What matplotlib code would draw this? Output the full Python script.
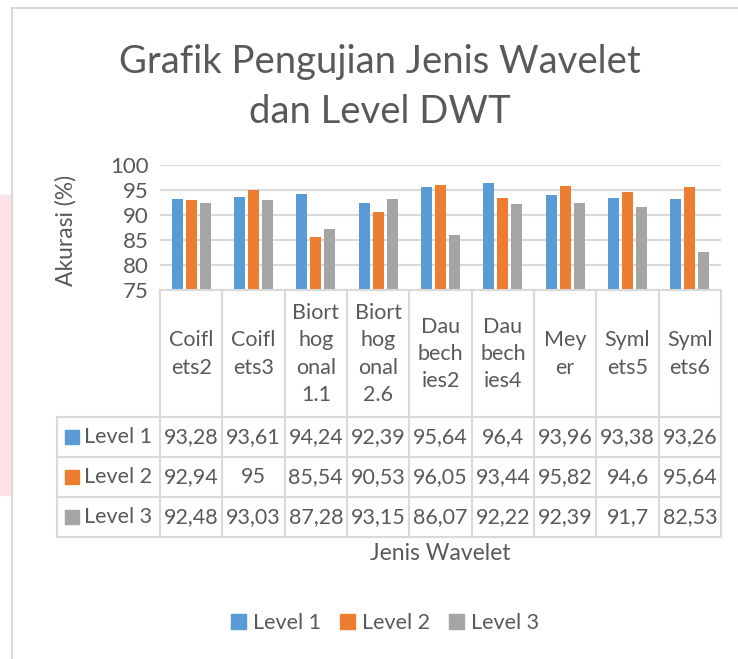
import matplotlib
matplotlib.use("Agg")
import matplotlib.pyplot as plt
from matplotlib.patches import Rectangle, Patch
from matplotlib.lines import Line2D

plt.rcParams['font.family'] = ['Lato', 'DejaVu Sans']

# data
headers = ['Coifl\nets2', 'Coifl\nets3', 'Biort\nhog\nonal\n1.1', 'Biort\nhog\nonal\n2.6',
           'Dau\nbech\nies2', 'Dau\nbech\nies4', 'Mey\ner', 'Syml\nets5', 'Syml\nets6']
series = ['Level 1', 'Level 2', 'Level 3']
level1 = [93.28, 93.61, 94.24, 92.39, 95.64, 96.4, 93.96, 93.38, 93.26]
level2 = [92.94, 95.0, 85.54, 90.53, 96.05, 93.44, 95.82, 94.6, 95.64]
level3 = [92.48, 93.03, 87.28, 93.15, 86.07, 92.22, 92.39, 91.7, 82.53]
yticks = [75, 80, 85, 90, 95, 100]

colors = ['#5B9BD5', '#ED7D31', '#A5A5A5']
txt = '#595959'
grid = '#d9d9d9'

W, H = 738, 659
fig = plt.figure(figsize=(W / 100, H / 100), dpi=100)


def fy(py):
    return 1 - py / H


# background bits: light frame and pink strip on the left
fig.patches.append(Rectangle((0, fy(495)), 11 / W, 300 / H, transform=fig.transFigure,
                             color='#fde3e7', zorder=0))
fig.add_artist(Line2D([12 / W, 1], [fy(8), fy(8)], color=grid, lw=1.5))
fig.add_artist(Line2D([12 / W, 12 / W], [0, fy(8)], color=grid, lw=1.5))

# bar chart
ax = fig.add_axes([160 / W, fy(290), 561 / W, 125 / H])
x = range(len(headers))
data = [level1, level2, level3]
for j, vals in enumerate(data):
    ax.bar([i + 0.5 + (j - 1) * 0.225 for i in x], vals, width=0.177,
           color=colors[j], zorder=3)
ax.set_xlim(0, len(headers))
ax.set_ylim(75, 100)
ax.set_yticks(yticks)
ax.set_xticks([])
ax.yaxis.grid(True, color=grid, lw=1.5)
ax.set_axisbelow(True)
for s in ax.spines.values():
    s.set_visible(False)
ax.tick_params(axis='y', length=0, labelsize=16, labelcolor=txt, pad=8)
fig.text(66 / W, fy(230), 'Akurasi (%)', rotation=90, ha='center', va='center',
         fontsize=16.5, color=txt)

# data table under the bars
tax = fig.add_axes([160 / W, fy(537), 561 / W, 247 / H])
tax.set_xlim(0, len(headers))
tax.set_ylim(247, 0)
tax.axis('off')
left = -103 / 62.33
for i in range(len(headers) + 1):
    tax.plot([i, i], [0, 247], color=grid, lw=1.5, clip_on=False)
tax.plot([left, left], [127, 247], color=grid, lw=1.5, clip_on=False)
tax.plot([0, len(headers)], [0, 0], color=grid, lw=1.5, clip_on=False)
for yb in [127, 167, 207, 247]:
    tax.plot([left, len(headers)], [yb, yb], color=grid, lw=1.5, clip_on=False)

for i, h in enumerate(headers):
    tax.text(i + 0.5, 64, h, ha='center', va='center', fontsize=15.5, color=txt,
             linespacing=1.45)
for j, vals in enumerate(data):
    yc = 147 + 40 * j
    tax.add_patch(Rectangle((-95 / 62.33, yc - 7), 14 / 62.33, 14, color=colors[j],
                            clip_on=False))
    tax.text(-76 / 62.33, yc, series[j], ha='left', va='center', fontsize=15.5,
             color=txt, clip_on=False)
    for i, v in enumerate(vals):
        tax.text(i + 0.5, yc, f'{v:g}'.replace('.', ','), ha='center', va='center',
                 fontsize=15.5, color=txt)

fig.text(440 / W, fy(553), 'Jenis Wavelet', ha='center', va='center', fontsize=16.5,
         color=txt)

fig.text(380 / W, fy(87), 'Grafik Pengujian Jenis Wavelet\ndan Level DWT', ha='center',
         va='center', fontsize=27.5, color=txt, linespacing=1.45)

handles = [Patch(color=c) for c in colors]
fig.legend(handles, series, loc='center', bbox_to_anchor=(385 / W, fy(623)), ncol=3,
           frameon=False, fontsize=15.5, handlelength=0.7, handleheight=0.7,
           handletextpad=0.3, columnspacing=0.9, labelcolor=txt)

fig.savefig('out.png', dpi=100)
